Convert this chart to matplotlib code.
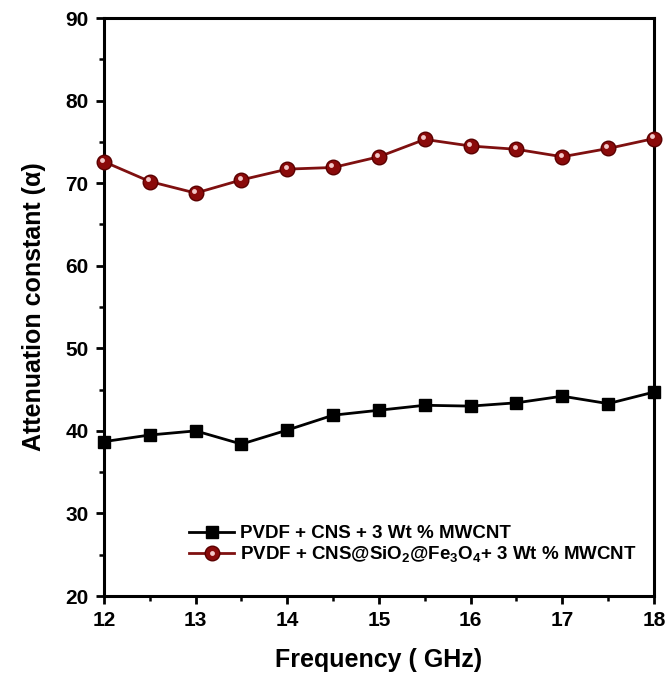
import matplotlib
matplotlib.use('Agg')
import matplotlib.pyplot as plt
import matplotlib.transforms as mtransforms
from matplotlib.ticker import MultipleLocator
from matplotlib.legend_handler import HandlerTuple

plt.rcParams['font.family'] = ['Liberation Sans', 'DejaVu Sans']
plt.rcParams['font.weight'] = 'bold'
plt.rcParams['mathtext.fontset'] = 'custom'
plt.rcParams['mathtext.rm'] = 'Liberation Sans:bold'
plt.rcParams['mathtext.bf'] = 'Liberation Sans:bold'
plt.rcParams['mathtext.it'] = 'Liberation Sans:bold:italic'

# Frequency points (GHz)
freq = [12, 12.5, 13, 13.5, 14, 14.5, 15, 15.5, 16, 16.5, 17, 17.5, 18]

# Attenuation constant for each sample
cns_mwcnt = [38.7, 39.5, 40.0, 38.4, 40.1, 41.9, 42.5, 43.1, 43.0, 43.4, 44.2, 43.3, 44.7]
cns_sio2_fe3o4 = [72.6, 70.2, 68.8, 70.4, 71.7, 71.9, 73.2, 75.3, 74.5, 74.1, 73.2, 74.2, 75.4]

labels = ['PVDF + CNS + 3 Wt % MWCNT',
          r'PVDF + CNS@SiO$_\mathbf{2}$@Fe$_\mathbf{3}$O$_\mathbf{4}$+ 3 Wt % MWCNT']

fig = plt.figure(figsize=(6.68, 6.88), dpi=100)
ax = fig.add_axes([0.1557, 0.1337, 0.8233, 0.8401])

l1, = ax.plot(freq, cns_mwcnt, color='black', lw=2.0, marker='s', ms=8.5,
              mfc='black', mec='black', clip_on=False, zorder=3)
l2, = ax.plot(freq, cns_sio2_fe3o4, color='#7f1010', lw=2.0, marker='o', ms=10.5,
              mfc='#8a0a0a', mec='#5a0000', mew=1.0, clip_on=False, zorder=3)

# little highlight to give the red markers a shaded look
shine = mtransforms.offset_copy(ax.transData, fig=fig, x=-1.2, y=1.5, units='points')
l3, = ax.plot(freq, cns_sio2_fe3o4, ls='none', marker='o', ms=3.5, mfc='#f3c8c8',
              mec='none', transform=shine, clip_on=False, zorder=4)

ax.set_xlim(12, 18)
ax.set_ylim(20, 90)
ax.xaxis.set_major_locator(MultipleLocator(1))
ax.xaxis.set_minor_locator(MultipleLocator(0.5))
ax.yaxis.set_major_locator(MultipleLocator(10))
ax.yaxis.set_minor_locator(MultipleLocator(5))

for s in ax.spines.values():
    s.set_linewidth(2.2)
ax.tick_params(which='major', direction='out', length=6, width=2.0, labelsize=15, pad=5)
ax.tick_params(which='minor', direction='out', length=3.5, width=1.8)
for t in ax.get_xticklabels() + ax.get_yticklabels():
    t.set_fontweight('bold')

ax.set_xlabel('Frequency ( GHz)', fontsize=18, fontweight='bold', labelpad=13)
ax.set_ylabel('Attenuation constant (α)', fontsize=18, fontweight='bold', labelpad=14)

ax.legend([l1, (l2, l3)], labels, loc='lower left', bbox_to_anchor=(0.155, 0.055),
          frameon=False, borderpad=0, borderaxespad=0,
          handlelength=2.4, handletextpad=0.3, labelspacing=0.1,
          handler_map={tuple: HandlerTuple(ndivide=1)},
          prop={'weight': 'bold', 'size': 13.5})

fig.savefig('out.png', dpi=100)
